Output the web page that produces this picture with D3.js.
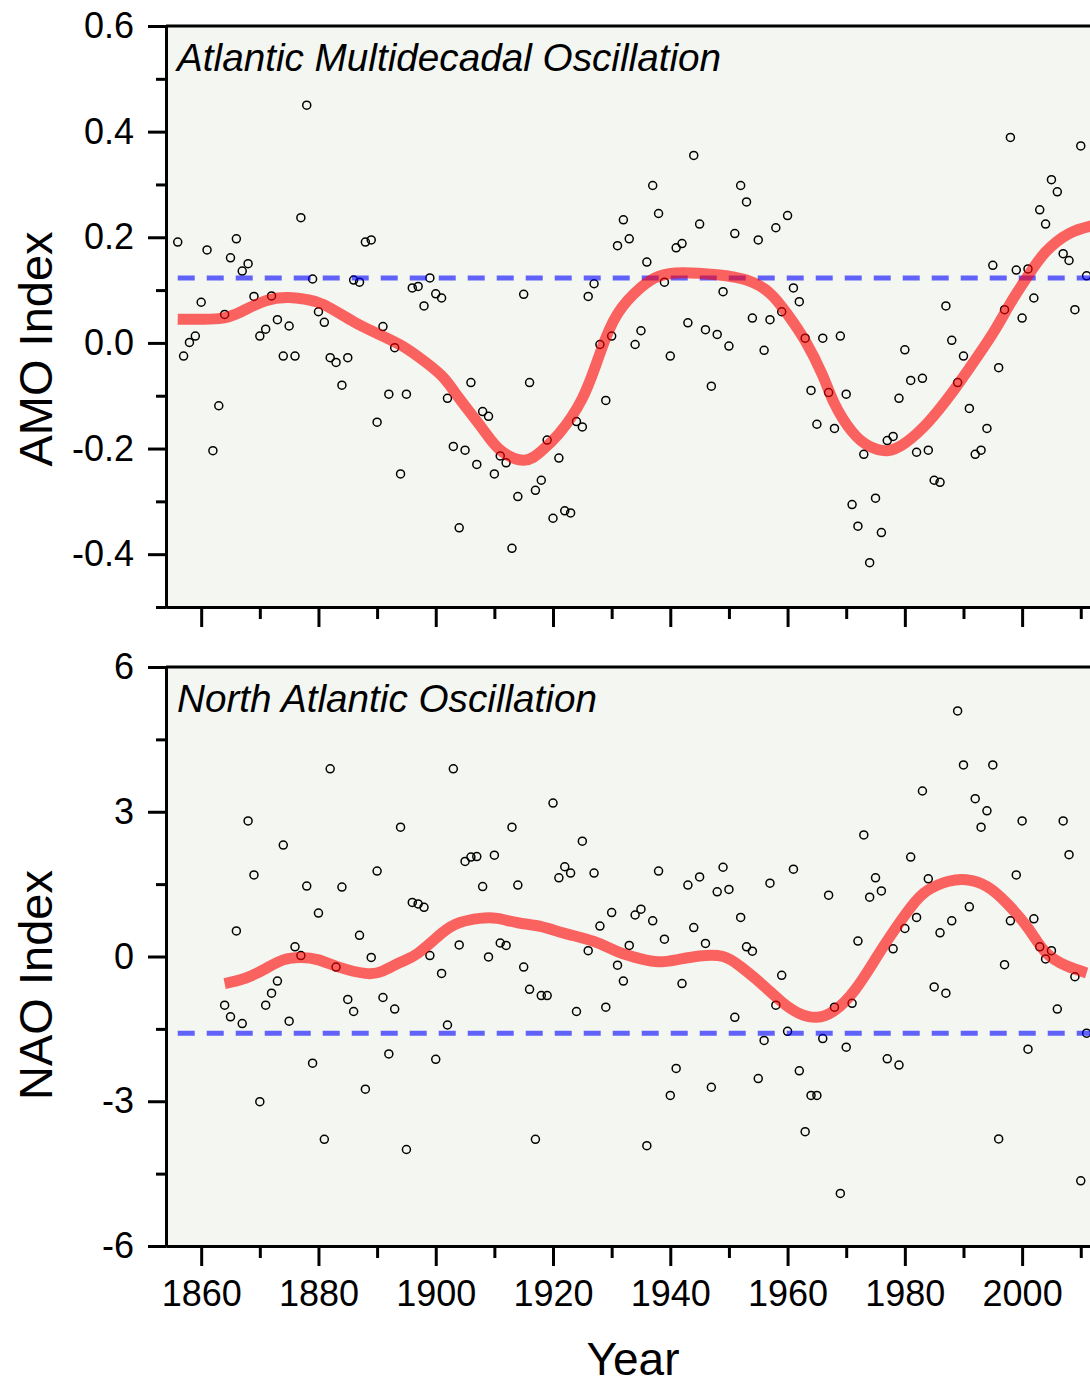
<!DOCTYPE html>
<html>
<head>
<meta charset="utf-8">
<script src="https://cdn.jsdelivr.net/npm/d3@7"></script>
<style>
  body { margin: 0; background: #fff; }
  svg text { font-family: "Liberation Sans", Arial, sans-serif; fill: #000; }
</style>
</head>
<body>
<div id="chart"></div>
<script>
// annual AMO index, 1856 onwards
var amoStart = 1856;
var amoValues = [
  0.191, -0.025, 0.001, 0.013, 0.077, 0.176, -0.204, -0.119, 0.054, 0.161,
  0.197, 0.136, 0.150, 0.088, 0.013, 0.026, 0.089, 0.044, -0.025, 0.032,
  -0.025, 0.237, 0.450, 0.121, 0.059, 0.039, -0.028, -0.037, -0.080, -0.028,
  0.119, 0.115, 0.191, 0.195, -0.150, 0.031, -0.097, -0.009, -0.248, -0.097,
  0.104, 0.107, 0.070, 0.123, 0.093, 0.085, -0.105, -0.196, -0.350, -0.203,
  -0.075, -0.230, -0.130, -0.139, -0.248, -0.214, -0.227, -0.389, -0.291, 0.092,
  -0.075, -0.279, -0.260, -0.184, -0.332, -0.218, -0.318, -0.322, -0.149, -0.159,
  0.088, 0.112, -0.003, -0.109, 0.013, 0.184, 0.233, 0.197, -0.003, 0.023,
  0.153, 0.298, 0.245, 0.115, -0.025, 0.180, 0.188, 0.038, 0.355, 0.225,
  0.025, -0.082, 0.016, 0.097, -0.006, 0.207, 0.298, 0.267, 0.047, 0.195,
  -0.014, 0.044, 0.218, 0.059, 0.241, 0.104, 0.078, 0.009, -0.090, -0.154,
  0.009, -0.094, -0.162, 0.013, -0.097, -0.306, -0.347, -0.211, -0.416, -0.294,
  -0.359, -0.185, -0.177, -0.105, -0.013, -0.071, -0.207, -0.067, -0.203, -0.260,
  -0.264, 0.070, 0.005, -0.075, -0.025, -0.124, -0.211, -0.203, -0.162, 0.147,
  -0.047, 0.063, 0.389, 0.138, 0.047, 0.140, 0.085, 0.252, 0.225, 0.309,
  0.286, 0.169, 0.156, 0.063, 0.373, 0.127
];

// smoothed AMO curve
var amoSmoothYears = [1856, 1863, 1867, 1871, 1875, 1878, 1881, 1886, 1890, 1894,
  1897, 1901, 1904, 1908, 1911, 1915, 1918, 1921, 1925, 1928, 1931, 1935, 1938,
  1942, 1948, 1953, 1957, 1960, 1963, 1966, 1968, 1971, 1974, 1977, 1980, 1984,
  1988, 1991, 1995, 1998, 2001, 2004, 2008, 2012];
var amoSmoothValues = [0.045, 0.046, 0.060, 0.080, 0.086, 0.082, 0.072, 0.040, 0.018, -0.004,
  -0.026, -0.062, -0.105, -0.163, -0.203, -0.222, -0.205, -0.172, -0.105, -0.020, 0.055, 0.105, 0.126,
  0.133, 0.129, 0.119, 0.094, 0.054, 0.004, -0.062, -0.115, -0.168, -0.196, -0.204, -0.190, -0.150,
  -0.095, -0.048, 0.018, 0.075, 0.127, 0.172, 0.207, 0.222];

// annual NAO index, 1864 onwards
var naoStart = 1864;
var naoValues = [
  -1.01, -1.25, 0.53, -1.39, 2.81, 1.69, -3.01, -1.01, -0.76, -0.51,
  2.31, -1.34, 0.20, 0.02, 1.46, -2.21, 0.90, -3.79, 3.89, -0.22,
  1.44, -0.89, -1.14, 0.44, -2.75, -0.02, 1.77, -0.85, -2.02, -1.09,
  2.68, -4.00, 1.12, 1.09, 1.02, 0.02, -2.13, -0.35, -1.42, 3.89,
  0.24, 1.97, 2.06, 2.07, 1.45, -0.01, 2.10, 0.28, 0.23, 2.68,
  1.48, -0.22, -0.68, -3.79, -0.81, -0.81, 3.18, 1.63, 1.86, 1.73,
  -1.14, 2.39, 0.12, 1.73, 0.63, -1.05, 0.91, -0.18, -0.51, 0.23,
  0.86, 0.98, -3.92, 0.74, 1.77, 0.36, -2.88, -2.32, -0.56, 1.48,
  0.60, 1.65, 0.27, -2.71, 1.34, 1.85, 1.39, -1.26, 0.81, 0.20,
  0.11, -2.53, -1.74, 1.52, -1.01, -0.39, -1.55, 1.81, -2.37, -3.63,
  -2.88, -2.88, -1.70, 1.27, -1.05, -4.91, -1.88, -0.97, 0.32, 2.52,
  1.23, 1.63, 1.36, -2.12, 0.16, -2.25, 0.58, 2.06, 0.81, 3.43,
  1.61, -0.63, 0.49, -0.76, 0.74, 5.09, 3.97, 1.03, 3.27, 2.68,
  3.02, 3.97, -3.78, -0.17, 0.74, 1.69, 2.81, -1.92, 0.78, 0.20,
  -0.05, 0.12, -1.09, 2.81, 2.11, -0.42, -4.65, -1.59
];

// smoothed NAO curve
var naoSmoothYears = [1864, 1867.5, 1871, 1874, 1877, 1880, 1883.5, 1888, 1891, 1894,
  1897, 1901, 1904, 1907.5, 1910.5, 1914, 1918, 1922, 1927, 1931, 1935, 1938, 1941,
  1945, 1949, 1952, 1955.5, 1959, 1962, 1965, 1968, 1971.5, 1975, 1977.5, 1981, 1984,
  1987.5, 1990.5, 1994, 1997.5, 2001, 2004, 2007.5, 2011];
var naoSmoothValues = [-0.56, -0.45, -0.25, -0.07, -0.02, -0.07, -0.22, -0.35, -0.30, -0.12,
  0.07, 0.48, 0.70, 0.79, 0.79, 0.70, 0.62, 0.48, 0.31, 0.10, -0.05, -0.11, -0.07,
  0.01, 0.00, -0.21, -0.56, -0.94, -1.18, -1.26, -1.12, -0.69, -0.05, 0.42, 1.02, 1.38,
  1.56, 1.59, 1.45, 1.09, 0.59, 0.09, -0.19, -0.34];

var thresholdStart = 1856;
var amoThreshold = 0.123;
var naoThreshold = -1.59;

var amoTicks = [0.6, 0.4, 0.2, 0.0, -0.2, -0.4];
var amoMinorTicks = [0.5, 0.3, 0.1, -0.1, -0.3, -0.5];
var naoTicks = [6, 3, 0, -3, -6];
var naoMinorTicks = [4.5, 1.5, -1.5, -4.5];
var yearTicks = [1860, 1880, 1900, 1920, 1940, 1960, 1980, 2000];
var yearMinorTicks = [1870, 1890, 1910, 1930, 1950, 1970, 1990, 2010];

var width = 1090;
var height = 1385;

var svg = d3
  .select("#chart")
  .append("svg")
  .attr("width", width)
  .attr("height", height);

var x = d3.scaleLinear().domain([1854, 2020]).range([166, 1139.4]);

var panels = [
  {
    title: "Atlantic Multidecadal Oscillation",
    label: "AMO Index",
    labelY: 349,
    start: amoStart,
    values: amoValues,
    smoothX: amoSmoothYears,
    smoothY: amoSmoothValues,
    threshold: amoThreshold,
    domain: [-0.5, 0.6],
    top: 26,
    bottom: 607,
    ticks: amoTicks,
    minor: amoMinorTicks,
    fmt: function(d) { return d.toFixed(1); },
    yearLabels: false
  },
  {
    title: "North Atlantic Oscillation",
    label: "NAO Index",
    labelY: 985,
    start: naoStart,
    values: naoValues,
    smoothX: naoSmoothYears,
    smoothY: naoSmoothValues,
    threshold: naoThreshold,
    domain: [-6, 6],
    top: 667,
    bottom: 1246,
    ticks: naoTicks,
    minor: naoMinorTicks,
    fmt: function(d) { return String(d); },
    yearLabels: true
  }
];

panels.forEach(drawPanel);

svg
  .append("text")
  .attr("x", 633)
  .attr("y", 1375)
  .attr("text-anchor", "middle")
  .style("font-size", "46px")
  .text("Year");

function drawPanel(p) {
  var y = d3.scaleLinear().domain(p.domain).range([p.bottom, p.top]);
  var g = svg.append("g");

  g.append("rect")
    .attr("x", x.range()[0])
    .attr("y", p.top)
    .attr("width", x.range()[1] - x.range()[0])
    .attr("height", p.bottom - p.top)
    .attr("fill", "#f3f6f1");

  var points = p.values.map(function(v, i) {
    return { year: p.start + i, value: v };
  });

  g.append("g")
    .selectAll("circle")
    .data(points)
    .enter()
    .append("circle")
    .attr("cx", function(d) { return x(d.year); })
    .attr("cy", function(d) { return y(d.value); })
    .attr("r", 4)
    .attr("fill", "none")
    .attr("stroke", "#000")
    .attr("stroke-width", 1.5);

  g.append("line")
    .attr("x1", x(thresholdStart))
    .attr("x2", x.range()[1])
    .attr("y1", y(p.threshold))
    .attr("y2", y(p.threshold))
    .attr("stroke", "#0000ff")
    .attr("stroke-opacity", 0.6)
    .attr("stroke-width", 5)
    .attr("stroke-dasharray", "17,12");

  var line = d3
    .line()
    .x(function(d) { return x(d[0]); })
    .y(function(d) { return y(d[1]); })
    .curve(d3.curveNatural);

  g.append("path")
    .datum(p.smoothX.map(function(yr, i) { return [yr, p.smoothY[i]]; }))
    .attr("d", line)
    .attr("fill", "none")
    .attr("stroke", "#ff0000")
    .attr("stroke-opacity", 0.6)
    .attr("stroke-width", 11);

  // axes
  var yAxis = d3.axisLeft(y).tickValues(p.ticks).tickFormat(p.fmt)
    .tickSize(18).tickSizeOuter(0).tickPadding(14);
  var yMinor = d3.axisLeft(y).tickValues(p.minor).tickFormat("")
    .tickSize(10).tickSizeOuter(0);
  var xAxis = d3.axisBottom(x).tickValues(yearTicks)
    .tickFormat(p.yearLabels ? d3.format("d") : "")
    .tickSize(20).tickSizeOuter(0).tickPadding(14);
  var xMinor = d3.axisBottom(x).tickValues(yearMinorTicks).tickFormat("")
    .tickSize(12).tickSizeOuter(0);

  [yAxis, yMinor].forEach(function(ax) {
    g.append("g")
      .attr("class", "axis")
      .attr("transform", "translate(" + x.range()[0] + ",0)")
      .call(ax);
  });
  [xAxis, xMinor].forEach(function(ax) {
    g.append("g")
      .attr("class", "axis")
      .attr("transform", "translate(0," + p.bottom + ")")
      .call(ax);
  });

  g.append("line")
    .attr("x1", x.range()[0])
    .attr("x2", x.range()[1])
    .attr("y1", p.top)
    .attr("y2", p.top)
    .attr("stroke", "#000")
    .attr("stroke-width", 3);

  g.selectAll(".axis path").attr("stroke", "#000").attr("stroke-width", 3);
  g.selectAll(".axis line").attr("stroke", "#000").attr("stroke-width", 3);
  g.selectAll(".axis text")
    .style("font-size", "36px")
    .style("font-family", "'Liberation Sans', Arial, sans-serif")
    .attr("fill", "#000");

  g.append("text")
    .attr("x", 177)
    .attr("y", p.top + 45)
    .style("font-size", "38.7px")
    .style("font-style", "italic")
    .text(p.title);

  g.append("text")
    .attr("transform", "translate(52," + p.labelY + ") rotate(-90)")
    .attr("text-anchor", "middle")
    .style("font-size", "47px")
    .text(p.label);
}
</script>
</body>
</html>
